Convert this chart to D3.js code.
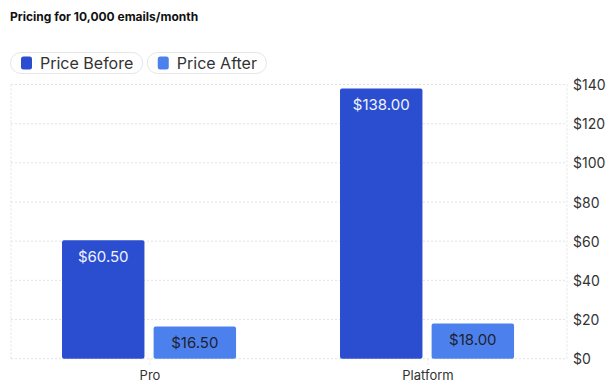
<!DOCTYPE html>
<html><head><meta charset="utf-8">
<script src="https://cdn.jsdelivr.net/npm/d3@7"></script>
<style>body{margin:0;background:#fff;font-family:Inter,"Noto Sans",sans-serif;}</style>
</head><body><svg id="c" width="610" height="382"></svg>
<script>
const title = "Pricing for 10,000 emails/month";
const categories = ["Pro", "Platform"];
const seriesNames = ["Price Before", "Price After"];
const priceBefore = [60.5, 138];
const priceAfter = [16.5, 18];
const yTicks = [0, 20, 40, 60, 80, 100, 120, 140];
const colors = ["#2a4ecf", "#4c81ed"];
const labelColors = ["#f0f3ff", "#1e2230"];

const svg = d3.select("#c");
const L = 11, R = 567, T = 84.5, B = 358.7;
svg.append("text").attr("x", 10).attr("y", 21).attr("font-size", 12).attr("font-weight", 700)
  .attr("fill", "#111").text(title);

// legend
let lx = 10;
seriesNames.forEach((n, i) => {
  const g = svg.append("g");
  const t = g.append("text").attr("x", lx + 30).attr("y", 63).attr("dominant-baseline", "central")
    .attr("font-size", 16).attr("fill", "#333").text(n);
  const w = t.node().getComputedTextLength() + 39;
  g.insert("rect", "text").attr("x", lx + 0.5).attr("y", 52.5).attr("width", w).attr("height", 21)
    .attr("rx", 10.5).attr("fill", "#fff").attr("stroke", "#e6e6e6");
  g.append("rect").attr("x", lx + 11).attr("y", 56.5).attr("width", 11).attr("height", 13)
    .attr("rx", 2.5).attr("fill", colors[i]);
  lx += w + 4.5;
});

const y = d3.scaleLinear().domain([0, 140]).range([B, T]);
const x0 = d3.scaleBand().domain(categories).range([L, R]).padding(0);
const bw = x0.bandwidth();
const x1 = d3.scaleBand().domain(seriesNames).range([bw * 0.1835, bw * 0.8095]).paddingInner(0.1);

// grid
svg.append("g").selectAll("line").data(yTicks).join("line")
  .attr("x1", L).attr("x2", R).attr("y1", d => y(d)).attr("y2", d => y(d))
  .attr("stroke", "#e3e3e3").attr("stroke-dasharray", "2,2");
[L, R].forEach(xv => svg.append("line").attr("x1", xv).attr("x2", xv).attr("y1", T).attr("y2", B)
  .attr("stroke", "#e3e3e3").attr("stroke-dasharray", "2,2"));

// y axis labels
svg.append("g").selectAll("text").data(yTicks).join("text")
  .attr("x", 573).attr("y", d => y(d)).attr("dominant-baseline", "central")
  .attr("font-size", 14).attr("fill", "#333").text(d => "$" + d);

// x ticks and labels
categories.forEach(c => {
  const cx = x0(c) + bw / 2;
  svg.append("line").attr("x1", cx).attr("x2", cx).attr("y1", B).attr("y2", B + 7)
    .attr("stroke", "#e3e3e3").attr("stroke-dasharray", "2,2");
  svg.append("text").attr("x", cx).attr("y", 374.5).attr("dominant-baseline", "central")
    .attr("text-anchor", "middle").attr("font-size", 13).attr("fill", "#333").text(c);
});

const series = [priceBefore, priceAfter];
const groups = svg.append("g").selectAll("g").data(categories).join("g")
  .attr("transform", c => `translate(${x0(c)},0)`);
series.forEach((vals, si) => {
  groups.append("rect")
    .attr("x", x1(seriesNames[si])).attr("width", x1.bandwidth())
    .attr("y", (c, ci) => y(vals[ci])).attr("height", (c, ci) => B - y(vals[ci]))
    .attr("rx", 2).attr("fill", colors[si]);
  groups.append("text")
    .attr("x", x1(seriesNames[si]) + x1.bandwidth() / 2)
    .attr("y", (c, ci) => y(vals[ci]) + 16).attr("dominant-baseline", "central")
    .attr("text-anchor", "middle").attr("font-size", 15).attr("fill", labelColors[si])
    .text((c, ci) => "$" + vals[ci].toFixed(2));
});
</script></body></html>
